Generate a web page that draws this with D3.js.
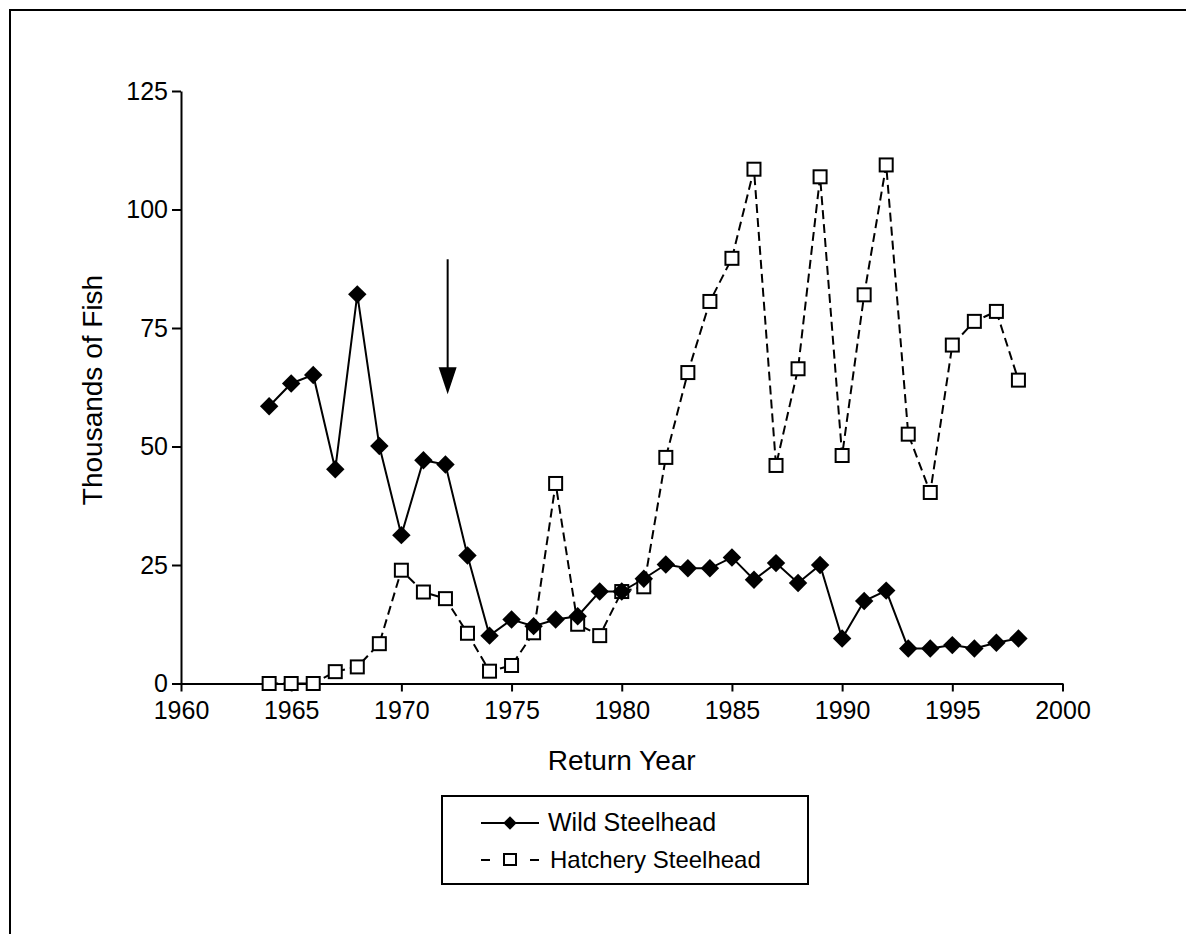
<!DOCTYPE html>
<html>
<head>
<meta charset="utf-8">
<script src="https://cdn.jsdelivr.net/npm/d3@7"></script>
<style>
  body { margin: 0; background: #fff; }
  svg { display: block; }
  text { font-family: "Liberation Sans", Arial, sans-serif; fill: #000; }
</style>
</head>
<body>
<svg id="chart" width="1186" height="934"></svg>
<script>
// return years
var years = [1964, 1965, 1966, 1967, 1968, 1969, 1970, 1971, 1972, 1973, 1974, 1975,
  1976, 1977, 1978, 1979, 1980, 1981, 1982, 1983, 1984, 1985, 1986, 1987, 1988,
  1989, 1990, 1991, 1992, 1993, 1994, 1995, 1996, 1997, 1998];

// thousands of fish
var wild = [58.5, 63.3, 65.1, 45.2, 82.1, 50.1, 31.3, 47.1, 46.2, 27.0, 10.1, 13.5,
  12.1, 13.5, 14.2, 19.4, 19.4, 22.1, 25.1, 24.3, 24.3, 26.6, 21.9, 25.4, 21.2,
  25.0, 9.5, 17.4, 19.6, 7.4, 7.4, 8.1, 7.4, 8.6, 9.5];

var hatchery = [0, 0, 0, 2.5, 3.5, 8.4, 23.9, 19.3, 17.9, 10.6, 2.6, 3.8,
  10.7, 42.2, 12.5, 10.1, 19.4, 20.4, 47.7, 65.6, 80.6, 89.7, 108.5, 46.0, 66.4,
  106.9, 48.1, 82.0, 109.4, 52.6, 40.3, 71.4, 76.4, 78.5, 64.0];

var xTicks = [1960, 1965, 1970, 1975, 1980, 1985, 1990, 1995, 2000];
var yTicks = [0, 25, 50, 75, 100, 125];

// arrow marking 1972
var arrowYear = 1972.1;
var arrowFrom = 89.5;
var arrowTo = 61;

var svg = d3.select("#chart");

// outer frame (only left / top edges show)
svg.append("path")
  .attr("d", "M10,934 L10,10 L1186,10")
  .attr("fill", "none")
  .attr("stroke", "#000")
  .attr("stroke-width", 2);

var x = d3.scaleLinear().domain([1960, 2000]).range([181, 1062.5]);
var y = d3.scaleLinear().domain([0, 125]).range([683.5, 91]);

svg.append("g")
  .attr("transform", "translate(0," + y(0) + ")")
  .call(d3.axisBottom(x).tickValues(xTicks).tickFormat(d3.format("d"))
    .tickSize(8).tickSizeOuter(0).tickPadding(10));

svg.append("g")
  .attr("transform", "translate(" + x(1960) + ",0)")
  .call(d3.axisLeft(y).tickValues(yTicks)
    .tickSize(9).tickSizeOuter(0).tickPadding(4));

svg.selectAll(".domain, .tick line")
  .attr("stroke", "#000")
  .attr("stroke-width", 2);
svg.selectAll(".tick text")
  .style("font-size", "25px");

// axis titles
svg.append("text")
  .attr("x", (x(1960) + x(2000)) / 2)
  .attr("y", 770)
  .attr("text-anchor", "middle")
  .style("font-size", "28px")
  .text("Return Year");

svg.append("text")
  .attr("transform", "translate(102,390) rotate(-90)")
  .attr("text-anchor", "middle")
  .style("font-size", "28px")
  .text("Thousands of Fish");

var line = d3.line()
  .x(function (d) { return x(d[0]); })
  .y(function (d) { return y(d[1]); });

var wildPts = years.map(function (yr, i) { return [yr, wild[i]]; });
var hatchPts = years.map(function (yr, i) { return [yr, hatchery[i]]; });

svg.append("path")
  .datum(hatchPts)
  .attr("fill", "none")
  .attr("stroke", "#000")
  .attr("stroke-width", 2)
  .attr("stroke-dasharray", "9,5")
  .attr("d", line);

svg.append("path")
  .datum(wildPts)
  .attr("fill", "none")
  .attr("stroke", "#000")
  .attr("stroke-width", 2)
  .attr("d", line);

var diamond = d3.symbol().type(d3.symbolSquare).size(170);

svg.append("g").selectAll("rect")
  .data(hatchPts)
  .enter().append("rect")
  .attr("x", function (d) { return x(d[0]) - 6.5; })
  .attr("y", function (d) { return y(d[1]) - 6.5; })
  .attr("width", 13)
  .attr("height", 13)
  .attr("fill", "#fff")
  .attr("stroke", "#000")
  .attr("stroke-width", 2);

svg.append("g").selectAll("path")
  .data(wildPts)
  .enter().append("path")
  .attr("d", diamond)
  .attr("transform", function (d) {
    return "translate(" + x(d[0]) + "," + y(d[1]) + ") rotate(45)";
  })
  .attr("fill", "#000");

// arrow
svg.append("line")
  .attr("x1", x(arrowYear)).attr("x2", x(arrowYear))
  .attr("y1", y(arrowFrom)).attr("y2", y(arrowTo) - 20)
  .attr("stroke", "#000")
  .attr("stroke-width", 2);

svg.append("path")
  .attr("d", "M" + (x(arrowYear) - 9) + "," + (y(arrowTo) - 27) +
    " L" + (x(arrowYear) + 9) + "," + (y(arrowTo) - 27) +
    " L" + x(arrowYear) + "," + y(arrowTo) + " Z")
  .attr("fill", "#000");

// legend
var legend = svg.append("g");
legend.append("rect")
  .attr("x", 442).attr("y", 796)
  .attr("width", 366).attr("height", 88)
  .attr("fill", "#fff")
  .attr("stroke", "#000")
  .attr("stroke-width", 2);

legend.append("line")
  .attr("x1", 481).attr("x2", 539)
  .attr("y1", 823).attr("y2", 823)
  .attr("stroke", "#000").attr("stroke-width", 2);
legend.append("path")
  .attr("d", d3.symbol().type(d3.symbolSquare).size(90))
  .attr("transform", "translate(510,823) rotate(45)")
  .attr("fill", "#000");
legend.append("text")
  .attr("x", 548).attr("y", 831)
  .style("font-size", "25px")
  .text("Wild Steelhead");

legend.append("line")
  .attr("x1", 481).attr("x2", 539)
  .attr("y1", 860).attr("y2", 860)
  .attr("stroke", "#000").attr("stroke-width", 2)
  .attr("stroke-dasharray", "9,14,12,14,9");
legend.append("rect")
  .attr("x", 504).attr("y", 854)
  .attr("width", 12).attr("height", 11)
  .attr("fill", "#fff")
  .attr("stroke", "#000").attr("stroke-width", 2);
legend.append("text")
  .attr("x", 550).attr("y", 868)
  .style("font-size", "24px")
  .text("Hatchery Steelhead");
</script>
</body>
</html>
